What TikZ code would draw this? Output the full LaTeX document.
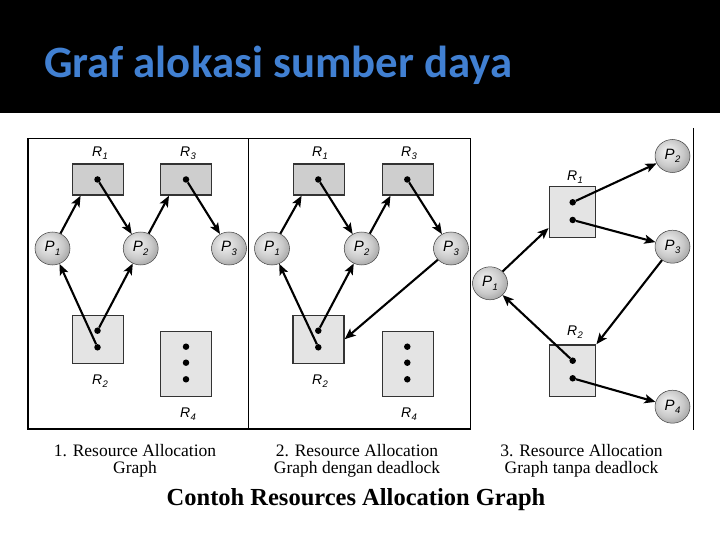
\documentclass[tikz,border=0pt]{standalone}
\usepackage{fontspec}
\setmainfont{Liberation Serif}
\newfontfamily\titlefont{Carlito}
\newfontfamily\lblfont{Liberation Sans}
\usetikzlibrary{arrows.meta,shapes.geometric,calc}
\definecolor{titleblue}{RGB}{65,128,210}
\definecolor{boxdark}{RGB}{206,206,206}
\definecolor{boxlight}{RGB}{228,228,228}
\pgfdeclareradialshading{procsphere}{\pgfpoint{-8bp}{8bp}}{color(0bp)=(white!90!gray); color(10bp)=(gray!25); color(20bp)=(gray!42); color(27bp)=(gray!62); color(50bp)=(gray!65)}
\newcommand\lblsym[2]{\textit{#1}\kern0.3pt\raisebox{-3.5pt}{\fontsize{9.5}{10}\selectfont\itshape #2}}
\tikzset{
  resd/.style={draw=black!80, line width=1.4pt, fill=boxdark, minimum width=51pt, minimum height=31pt, inner sep=0pt},
  resl/.style={draw=black!80, line width=1.4pt, fill=boxlight, inner sep=0pt},
  proc/.style={ellipse, shading=procsphere, draw=gray!50!black, line width=0.5pt, minimum width=35pt, minimum height=33pt, inner sep=0pt, font=\lblfont\fontsize{15}{15}\selectfont},
  tok/.style={circle, fill=black, minimum size=6.5pt, inner sep=0pt},
  arr/.style={line width=2.1pt, -{Stealth[length=11pt,width=9pt,inset=2.5pt]}},
  rlab/.style={font=\lblfont\fontsize{14}{14}\selectfont, inner sep=0pt},
  captxt/.style={align=center, font=\fontsize{17.5}{16.5}\selectfont, inner sep=0pt},
  frameline/.style={line width=1.6pt}
}
\begin{document}
\begin{tikzpicture}[x=1pt,y=-1pt]
\useasboundingbox (0,0) rectangle (720,540);
\fill[white] (0,0) rectangle (720,540);
\fill[black] (0,0) rectangle (720,113);
\node[anchor=base west, font=\titlefont\bfseries\fontsize{44.8}{46}\selectfont, text=titleblue, inner sep=0pt] (title) at (44,78) {Graf alokasi sumber daya};

% frames
\draw[frameline] (28,138.5) rectangle (470.5,429);
\draw[frameline] (248.5,138.5) -- (248.5,429);
\draw[line width=1.2pt] (693.5,128) -- (693.5,430);

% ---------- panel 1 ----------
\node[resd] (aR1) at (97.8,179.5) {};
\node[resd] (aR3) at (186.2,179.5) {};
\node[resl, minimum width=51pt, minimum height=48pt] (aR2) at (97.8,339.2) {};
\node[resl, minimum width=51pt, minimum height=65pt] (aR4) at (186.2,364.2) {};
\node[rlab] (aR1l) at (100,153) {\lblsym{R}{1}};
\node[rlab] (aR3l) at (188,153) {\lblsym{R}{3}};
\node[rlab] (aR2l) at (100,381) {\lblsym{R}{2}};
\node[rlab] (aR4l) at (188,414) {\lblsym{R}{4}};
\node[tok] (aR1d) at (97.5,179.5) {};
\node[tok] (aR3d) at (186,179.5) {};
\node[tok] (aR2a) at (97.5,330.7) {};
\node[tok] (aR2b) at (97.5,347.3) {};
\node[tok] (aR4a) at (186,346.7) {};
\node[tok] (aR4b) at (186,362.7) {};
\node[tok] (aR4c) at (186,379.3) {};
\node[proc] (aP1) at (52.5,248.5) {\lblsym{P}{1}};
\node[proc] (aP2) at (140.7,248.5) {\lblsym{P}{2}};
\node[proc] (aP3) at (229,248.5) {\lblsym{P}{3}};
\draw[arr] (aP1) -- ([xshift=9pt]aR1.south west);
\draw[arr] (aR1d) -- (aP2);
\draw[arr] (aP2) -- ([xshift=9pt]aR3.south west);
\draw[arr] (aR3d) -- (aP3);
\draw[arr] (aR2b) -- (aP1);
\draw[arr] (aR2a) -- (aP2);

% ---------- panel 2 ----------
\node[resd] (bR1) at (318.8,179.5) {};
\node[resd] (bR3) at (407.7,179.5) {};
\node[resl, minimum width=51pt, minimum height=48pt] (bR2) at (318.5,339.2) {};
\node[resl, minimum width=51pt, minimum height=65pt] (bR4) at (407.7,364.2) {};
\node[rlab] (bR1l) at (320,153) {\lblsym{R}{1}};
\node[rlab] (bR3l) at (409,153) {\lblsym{R}{3}};
\node[rlab] (bR2l) at (320,381) {\lblsym{R}{2}};
\node[rlab] (bR4l) at (409,414) {\lblsym{R}{4}};
\node[tok] (bR1d) at (318.3,179.5) {};
\node[tok] (bR3d) at (407.3,179.5) {};
\node[tok] (bR2a) at (318.3,330.7) {};
\node[tok] (bR2b) at (318.3,347.3) {};
\node[tok] (bR4a) at (407.3,346.7) {};
\node[tok] (bR4b) at (407.3,362.7) {};
\node[tok] (bR4c) at (407.3,379.3) {};
\node[proc] (bP1) at (272,248.5) {\lblsym{P}{1}};
\node[proc] (bP2) at (361.7,248.5) {\lblsym{P}{2}};
\node[proc] (bP3) at (451,248.5) {\lblsym{P}{3}};
\draw[arr] (bP1) -- ([xshift=9pt]bR1.south west);
\draw[arr] (bR1d) -- (bP2);
\draw[arr] (bP2) -- ([xshift=9pt]bR3.south west);
\draw[arr] (bR3d) -- (bP3);
\draw[arr] (bR2b) -- (bP1);
\draw[arr] (bR2a) -- (bP2);
\draw[arr] (bP3) -- (bR2.east);

% ---------- panel 3 ----------
\node[resl, minimum width=46.4pt, minimum height=50.6pt] (cR1) at (572.5,212) {};
\node[resl, minimum width=46.4pt, minimum height=51.7pt] (cR2) at (572.5,370.8) {};
\node[rlab] (cR1l) at (575,177) {\lblsym{R}{1}};
\node[rlab] (cR2l) at (575,332) {\lblsym{R}{2}};
\node[tok] (cR1a) at (572.7,202.3) {};
\node[tok] (cR1b) at (572.7,220) {};
\node[tok] (cR2a) at (572.7,360.7) {};
\node[tok] (cR2b) at (572.7,378.3) {};
\node[proc] (cP1) at (490,283.3) {\lblsym{P}{1}};
\node[proc] (cP2) at (672.5,156) {\lblsym{P}{2}};
\node[proc] (cP3) at (672.5,246.7) {\lblsym{P}{3}};
\node[proc] (cP4) at (672.5,406.7) {\lblsym{P}{4}};
\draw[arr] (cR1a) -- (cP2);
\draw[arr] (cR1b) -- (cP3);
\draw[arr] (cP1) -- ([yshift=10pt]cR1.south west);
\draw[arr] (cP3) -- (cR2.north east);
\draw[arr] (cR2a) -- (cP1);
\draw[arr] (cR2b) -- (cP4);

% ---------- captions ----------
\node[captxt] (cap1) at (135,461) {1. Resource Allocation\\Graph};
\node[captxt] (cap2) at (357,461) {2. Resource Allocation\\Graph dengan deadlock};
\node[captxt] (cap3) at (581.5,461) {3. Resource Allocation\\Graph tanpa deadlock};
\node[font=\bfseries\fontsize{24.5}{25}\selectfont, inner sep=0pt] (main) at (356,500) {Contoh Resources Allocation Graph};
\end{tikzpicture}
\end{document}
